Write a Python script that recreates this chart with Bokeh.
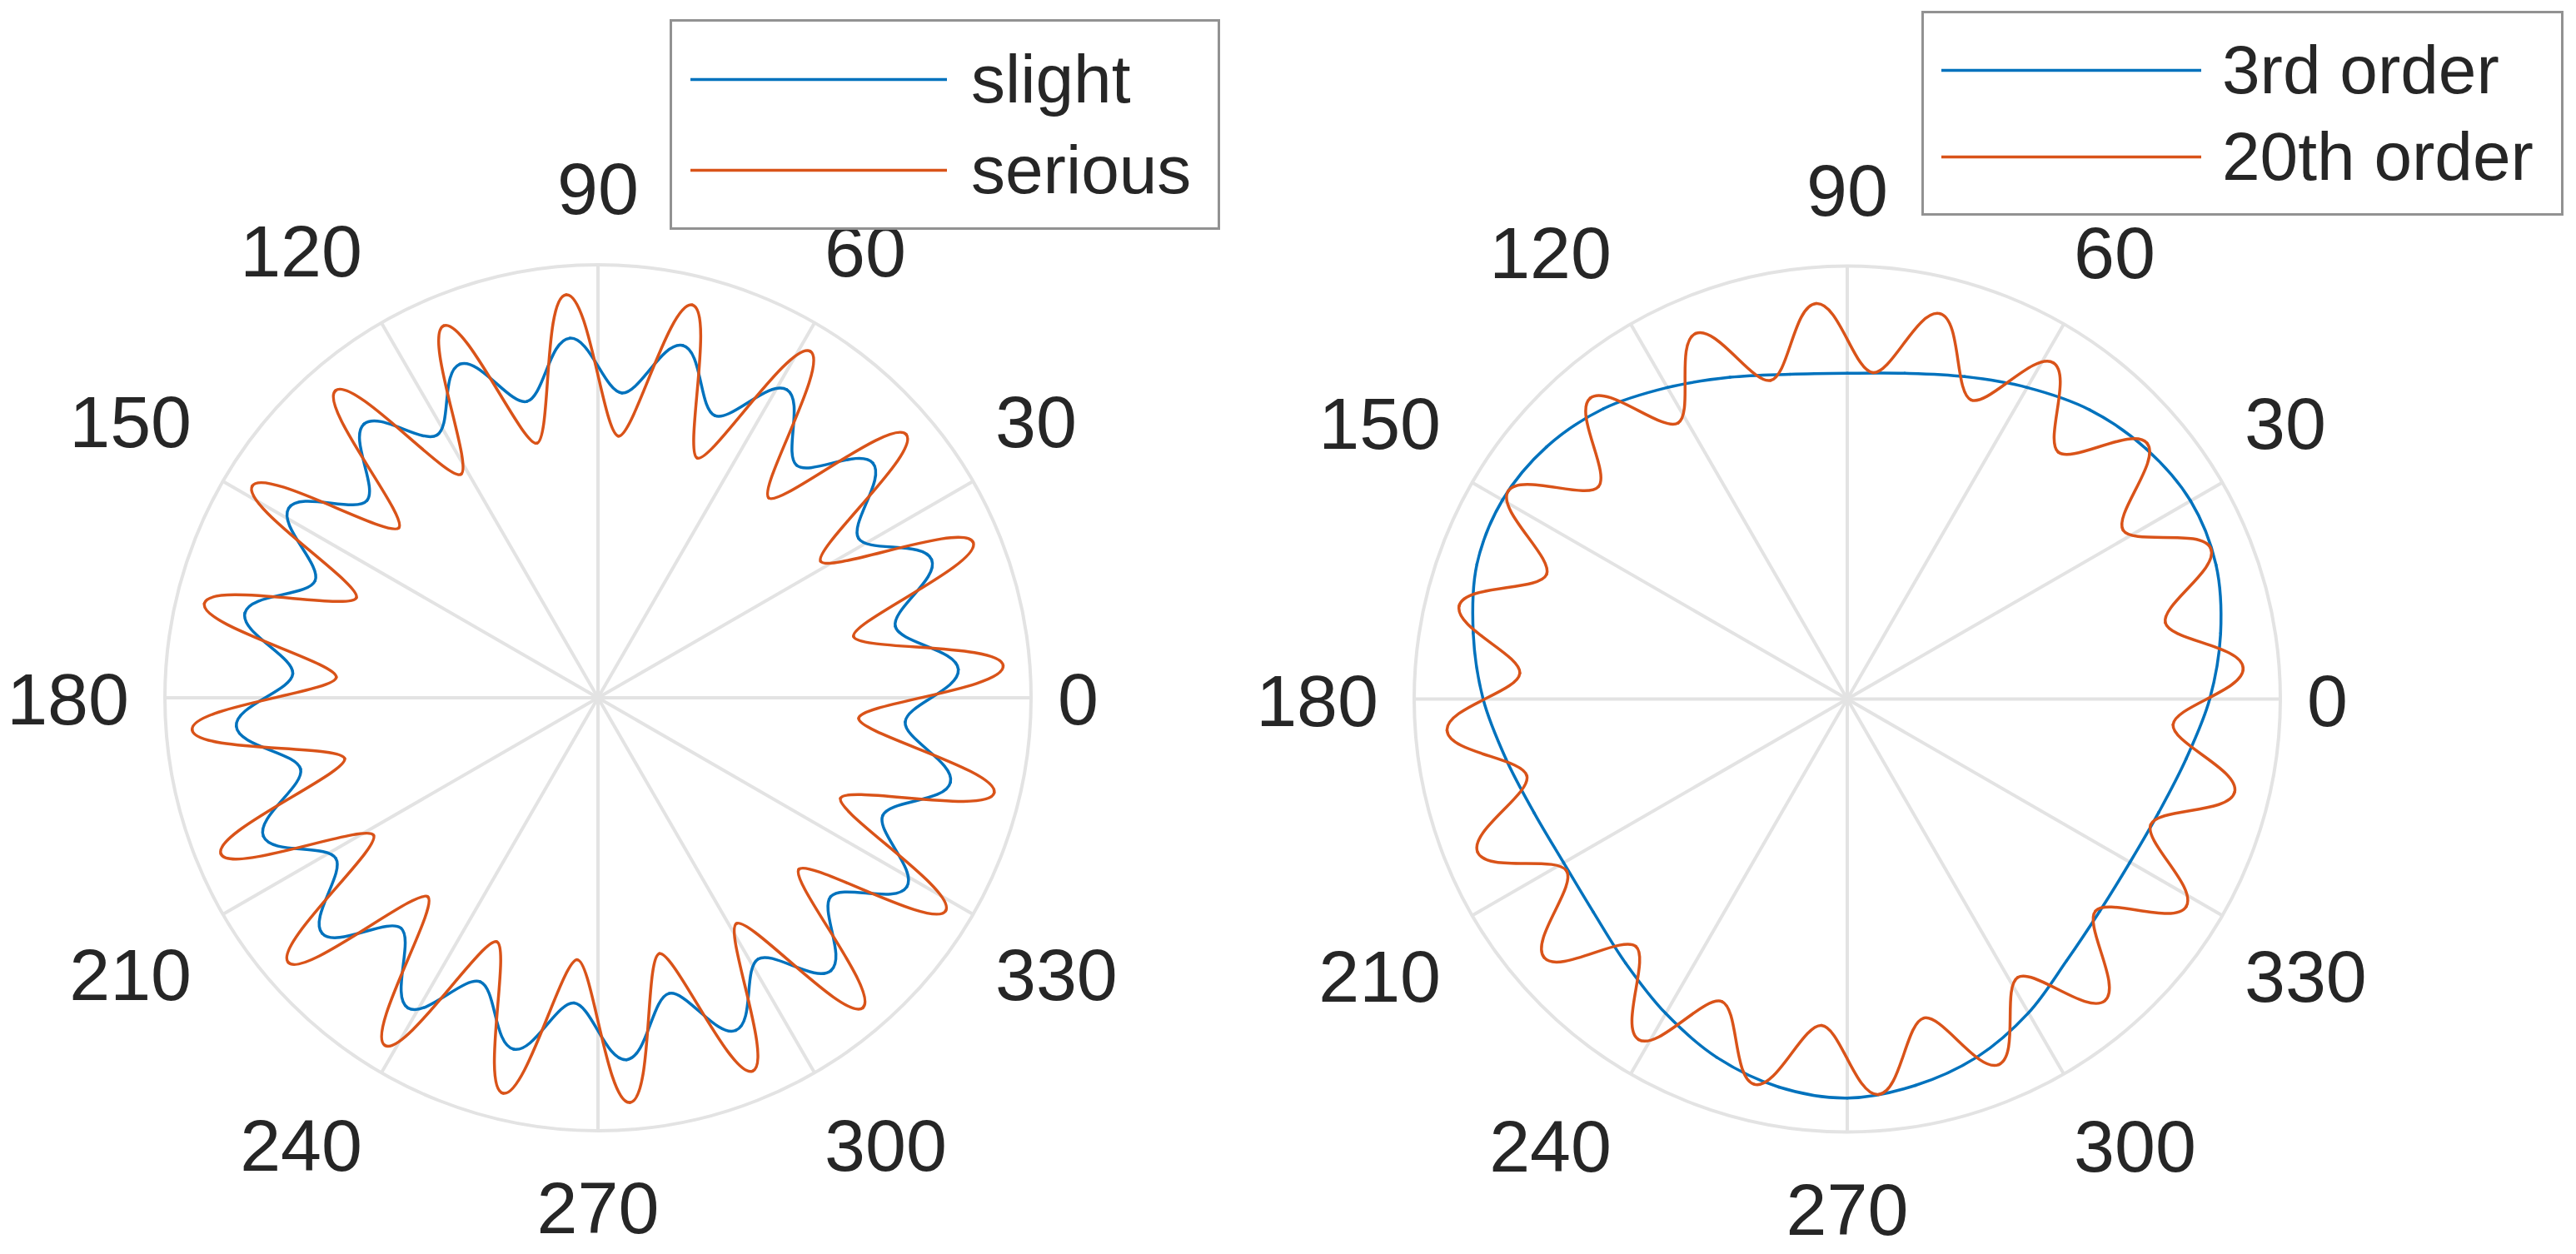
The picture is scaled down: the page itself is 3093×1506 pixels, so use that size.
import math
from bokeh.plotting import figure
from bokeh.layouts import row
from bokeh.models import Legend, LegendItem, Range1d, ColumnDataSource
from bokeh.embed import file_html
from bokeh.resources import INLINE
from bokeh.core.properties import value

# ---------------- data ----------------
theta_ticks = [0, 30, 60, 90, 120, 150, 180, 210, 240, 270, 300, 330]
theta_labels = ["0", "30", "60", "90", "120", "150", "180", "210", "240", "270", "300", "330"]
r_max = 1.3

# angles (deg) of the outer tips and of the inner tips of the 20-lobe curves
peak_angles = [4.5, 22.5, 40.5, 58.5, 76.5, 94.5, 112.5, 130.5, 148.5, 166.5,
               184.5, 202.5, 220.5, 238.5, 256.5, 274.5, 292.5, 310.5, 328.5, 346.5]
trough_angles = [13.5, 31.5, 49.5, 67.5, 85.5, 103.5, 121.5, 139.5, 157.5, 175.5,
                 193.5, 211.5, 229.5, 247.5, 265.5, 283.5, 301.5, 319.5, 337.5, 355.5]

slight_peaks = [1.085, 1.084, 1.085, 1.085, 1.088, 1.083, 1.084, 1.081, 1.089, 1.090,
                1.089, 1.087, 1.089, 1.092, 1.085, 1.090, 1.081, 1.077, 1.087, 1.088]
slight_troughs = [0.918, 0.917, 0.918, 0.917, 0.918, 0.915, 0.925, 0.912, 0.919, 0.919,
                  0.918, 0.923, 0.910, 0.923, 0.919, 0.913, 0.920, 0.919, 0.925, 0.925]

serious_peaks = [1.220, 1.219, 1.217, 1.220, 1.213, 1.214, 1.209, 1.213, 1.217, 1.215,
                 1.222, 1.225, 1.223, 1.224, 1.221, 1.219, 1.213, 1.224, 1.224, 1.223]
serious_troughs = [0.789, 0.784, 0.789, 0.779, 0.788, 0.786, 0.787, 0.786, 0.785, 0.788,
                   0.782, 0.790, 0.786, 0.793, 0.789, 0.790, 0.795, 0.793, 0.788, 0.785]

order20_peaks = [1.192, 1.181, 1.183, 1.184, 1.190, 1.191, 1.188, 1.188, 1.194, 1.198,
                 1.205, 1.201, 1.196, 1.199, 1.190, 1.191, 1.188, 1.191, 1.193, 1.196]
order20_troughs = [0.982, 0.971, 0.975, 0.972, 0.983, 0.984, 0.972, 0.982, 0.977, 0.986,
                   0.989, 0.988, 0.977, 0.983, 0.983, 0.985, 0.980, 0.980, 0.986, 0.981]

order3_angles = [0, 10, 20, 30, 40, 50, 60, 70, 80, 90, 100, 110, 120, 130, 140, 150, 160, 170,
                 180, 190, 200, 210, 220, 230, 240, 250, 260, 270, 280, 290, 300, 310, 320, 330, 340, 350]
order3_r = [1.088, 1.138, 1.178, 1.190, 1.170, 1.133, 1.080, 1.030, 0.993, 0.978, 0.990, 1.028,
            1.080, 1.138, 1.178, 1.195, 1.183, 1.140, 1.093, 1.040, 1.000, 0.983, 0.995, 1.035,
            1.090, 1.145, 1.183, 1.198, 1.178, 1.143, 1.088, 1.025, 0.990, 0.980, 0.995, 1.033]

# ---------------- styling ----------------
BLUE = "#0072BD"
ORANGE = "#D95319"
GRID = "#e3e3e3"
TEXT = "#262626"
FONT = "Liberation Sans"
H = 1506
SCALE = 400.0  # pixels per radial unit
LW = 3.5


def interleave(angles_a, vals_a, angles_b, vals_b):
    ang, val = [], []
    for a1, v1, a2, v2 in zip(angles_a, vals_a, angles_b, vals_b):
        ang += [a1, a2]
        val += [v1, v2]
    return ang, val


def ripple_source(angles, radii):
    """Cubic segments between successive extrema, tangent perpendicular to the radius."""
    k = 0.3634
    n = len(angles)
    d = dict(x0=[], y0=[], x1=[], y1=[], cx0=[], cy0=[], cx1=[], cy1=[])
    for i in range(n):
        j = (i + 1) % n
        a0 = math.radians(angles[i])
        a1 = math.radians(angles[j])
        span = (a1 - a0) % (2 * math.pi)
        r0, r1 = radii[i], radii[j]
        x0, y0 = r0 * math.cos(a0), r0 * math.sin(a0)
        x1, y1 = r1 * math.cos(a1), r1 * math.sin(a1)
        l0, l1 = k * r0 * span, k * r1 * span
        d["x0"].append(x0); d["y0"].append(y0)
        d["x1"].append(x1); d["y1"].append(y1)
        d["cx0"].append(x0 - l0 * math.sin(a0)); d["cy0"].append(y0 + l0 * math.cos(a0))
        d["cx1"].append(x1 + l1 * math.sin(a1)); d["cy1"].append(y1 - l1 * math.cos(a1))
    return ColumnDataSource(d)


def smooth_source(angles, radii):
    """Closed Catmull-Rom curve through the sampled points."""
    pts = [(r * math.cos(math.radians(a)), r * math.sin(math.radians(a))) for a, r in zip(angles, radii)]
    n = len(pts)
    d = dict(x0=[], y0=[], x1=[], y1=[], cx0=[], cy0=[], cx1=[], cy1=[])
    for i in range(n):
        pm, p0, p1, p2 = pts[i - 1], pts[i], pts[(i + 1) % n], pts[(i + 2) % n]
        d["x0"].append(p0[0]); d["y0"].append(p0[1])
        d["x1"].append(p1[0]); d["y1"].append(p1[1])
        d["cx0"].append(p0[0] + (p1[0] - pm[0]) / 6); d["cy0"].append(p0[1] + (p1[1] - pm[1]) / 6)
        d["cx1"].append(p1[0] - (p2[0] - p0[0]) / 6); d["cy1"].append(p1[1] - (p2[1] - p0[1]) / 6)
    return ColumnDataSource(d)


def polar_figure(width, cx_px, cy_px):
    p = figure(width=width, height=H,
               x_range=Range1d(-cx_px / SCALE, (width - cx_px) / SCALE),
               y_range=Range1d(-(H - cy_px) / SCALE, cy_px / SCALE),
               x_axis_type=None, y_axis_type=None, title=None,
               toolbar_location=None, output_backend="svg", min_border=0)
    p.grid.visible = False
    p.outline_line_color = None
    p.background_fill_color = "white"
    p.border_fill_color = "white"

    # spokes and outer circle
    xs1 = [r_max * math.cos(math.radians(t)) for t in theta_ticks]
    ys1 = [r_max * math.sin(math.radians(t)) for t in theta_ticks]
    p.segment(x0=[0] * len(theta_ticks), y0=[0] * len(theta_ticks), x1=xs1, y1=ys1,
              line_color=GRID, line_width=4)
    p.circle(x=[0], y=[0], radius=r_max, fill_color=None, line_color=GRID, line_width=4)

    # angle labels
    r_lab = 560 / SCALE
    groups = {}
    for t, lab in zip(theta_ticks, theta_labels):
        c, s = math.cos(math.radians(t)), math.sin(math.radians(t))
        align = "left" if c > 0.01 else ("right" if c < -0.01 else "center")
        base = "bottom" if s > 0.01 else ("top" if s < -0.01 else "middle")
        g = groups.setdefault((align, base), dict(x=[], y=[], t=[]))
        g["x"].append(r_lab * c); g["y"].append(r_lab * s); g["t"].append(lab)
    xoff = {"left": -8, "right": -3, "center": 0}
    yoff = {"bottom": -21, "top": 23, "middle": 2}
    for (align, base), g in groups.items():
        p.text(x=g["x"], y=g["y"], text=g["t"], text_align=align, text_baseline=base,
               x_offset=xoff[align], y_offset=yoff[base],
               text_font=value(FONT), text_font_size="88px", text_color=TEXT)
    return p


def style_legend(leg, pad, gw, standoff, lw, spacing):
    leg.label_text_font = FONT
    leg.label_text_font_size = "82px"
    leg.label_text_color = TEXT
    leg.glyph_width = gw
    leg.glyph_height = 40
    leg.label_standoff = standoff
    leg.label_width = lw
    leg.padding = pad
    leg.spacing = spacing
    leg.margin = 0
    leg.border_line_color = TEXT
    leg.border_line_width = 3
    leg.background_fill_color = "white"
    leg.background_fill_alpha = 1.0


# ---------------- left chart ----------------
W1 = 1480
p1 = polar_figure(W1, 717.5, 837.5)
a_s, r_s = interleave(peak_angles, slight_peaks, trough_angles, slight_troughs)
a_v, r_v = interleave(peak_angles, serious_peaks, trough_angles, serious_troughs)
g_slight = p1.bezier(x0="x0", y0="y0", x1="x1", y1="y1", cx0="cx0", cy0="cy0", cx1="cx1", cy1="cy1",
                     source=ripple_source(a_s, r_s), line_color=BLUE, line_width=LW, line_cap="round")
g_serious = p1.bezier(x0="x0", y0="y0", x1="x1", y1="y1", cx0="cx0", cy0="cy0", cx1="cx1", cy1="cy1",
                      source=ripple_source(a_v, r_v), line_color=ORANGE, line_width=LW, line_cap="round")
leg1 = Legend(items=[LegendItem(label="slight", renderers=[g_slight]),
                     LegendItem(label="serious", renderers=[g_serious])],
              location=(804, H - 276))
style_legend(leg1, 22, 308, 29, 274, 15)
p1.add_layout(leg1)

# ---------------- right chart ----------------
W2 = 1610
p2 = polar_figure(W2, 2217.5 - W1, 839)
a_20, r_20 = interleave(peak_angles, order20_peaks, trough_angles, order20_troughs)
g_3 = p2.bezier(x0="x0", y0="y0", x1="x1", y1="y1", cx0="cx0", cy0="cy0", cx1="cx1", cy1="cy1",
                source=smooth_source(order3_angles, order3_r), line_color=BLUE, line_width=LW, line_cap="round")
g_20 = p2.bezier(x0="x0", y0="y0", x1="x1", y1="y1", cx0="cx0", cy0="cy0", cx1="cx1", cy1="cy1",
                 source=ripple_source(a_20, r_20), line_color=ORANGE, line_width=LW, line_cap="round")
leg2 = Legend(items=[LegendItem(label="3rd order", renderers=[g_3]),
                     LegendItem(label="20th order", renderers=[g_20])],
              location=(2307 - W1, H - 259))
style_legend(leg2, 21, 312, 25, 386, 10)
p2.add_layout(leg2)

layout = row(p1, p2)
open("out.html", "w").write(file_html(layout, INLINE))
